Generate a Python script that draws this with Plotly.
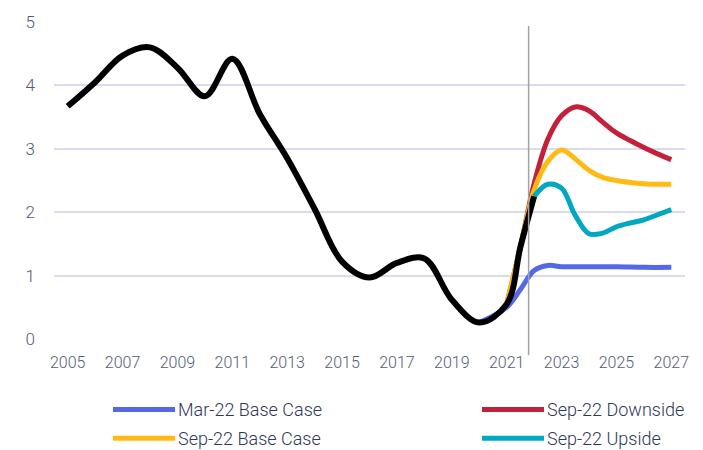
import plotly.graph_objects as go

# Historical series (annual, with a mid-2021 reading)
hist_years = [2005, 2006, 2007, 2008, 2009, 2010, 2011, 2012, 2013, 2014,
              2015, 2016, 2017, 2018, 2019, 2020, 2021, 2021.5, 2022]
hist_values = [3.67, 4.05, 4.47, 4.60, 4.28, 3.83, 4.42, 3.55, 2.85, 2.05,
               1.22, 0.97, 1.20, 1.27, 0.62, 0.26, 0.55, 1.45, 2.25]

# Scenario paths (half-yearly)
mar22_base_x = [2020, 2021, 2021.5, 2022, 2022.5, 2023, 2024, 2025, 2026, 2027]
mar22_base_y = [0.26, 0.50, 0.78, 1.08, 1.16, 1.14, 1.14, 1.14, 1.13, 1.13]

sep22_down_x = [2021, 2021.5, 2022, 2022.5, 2023, 2023.5, 2024, 2024.5, 2025, 2025.5, 2026, 2026.5, 2027]
sep22_down_y = [0.55, 1.45, 2.45, 3.15, 3.52, 3.66, 3.60, 3.42, 3.25, 3.13, 3.02, 2.92, 2.83]

sep22_base_x = [2021, 2021.5, 2022, 2022.5, 2023, 2023.5, 2024, 2024.5, 2025, 2025.5, 2026, 2026.5, 2027]
sep22_base_y = [0.55, 1.45, 2.35, 2.80, 2.98, 2.84, 2.66, 2.55, 2.50, 2.47, 2.45, 2.44, 2.44]

sep22_up_x = [2022, 2022.5, 2023, 2023.5, 2024, 2024.5, 2025, 2025.5, 2026, 2026.5, 2027]
sep22_up_y = [2.25, 2.44, 2.38, 1.95, 1.66, 1.67, 1.77, 1.83, 1.88, 1.96, 2.04]

forecast_start = 2021.8
x_ticks = list(range(2005, 2028, 2))
y_ticks = [0, 1, 2, 3, 4, 5]

series = [
    ("Mar-22 Base Case", mar22_base_x, mar22_base_y, "#5568e8"),
    ("Sep-22 Downside", sep22_down_x, sep22_down_y, "#c3213a"),
    ("Sep-22 Base Case", sep22_base_x, sep22_base_y, "#ffbb14"),
    ("Sep-22 Upside", sep22_up_x, sep22_up_y, "#00a9c1"),
]

FONT = "Roboto, sans-serif"
TICK_COLOR = "#545b78"
LEGEND_COLOR = "#2f375a"

W, H = 703, 450
ML, MR, MT, MB = 54, 18, 20, 111
PW, PH = W - ML - MR, H - MT - MB


def px_x(p):
    return (p - ML) / PW


def px_y(p):
    return (H - MB - p) / PH


fig = go.Figure()
for name, xs, ys, color in series:
    fig.add_trace(go.Scatter(x=xs, y=ys, name=name, mode="lines",
                             line=dict(color=color, width=5, shape="spline"),
                             showlegend=False))
fig.add_trace(go.Scatter(x=hist_years, y=hist_values, name="Actual", mode="lines",
                         line=dict(color="#000000", width=6, shape="spline"),
                         showlegend=False))

shapes = [dict(type="line", xref="x", yref="paper",
               x0=forecast_start, x1=forecast_start, y0=px_y(355), y1=px_y(24),
               line=dict(color="#a3a3a3", width=1.5))]
annotations = []

# Legend: two columns, two rows
legend_slots = [(113, 410), (482, 410), (113, 439), (482, 439)]
for (name, _, _, color), (lx, ly) in zip(series, legend_slots):
    shapes.append(dict(type="line", xref="paper", yref="paper",
                       x0=px_x(lx), x1=px_x(lx + 62), y0=px_y(ly), y1=px_y(ly),
                       line=dict(color=color, width=5)))
    annotations.append(dict(text=name, xref="paper", yref="paper",
                            x=px_x(lx + 63), y=px_y(ly), xanchor="left", yanchor="middle",
                            showarrow=False,
                            font=dict(family=FONT, size=18, weight=300, color=LEGEND_COLOR)))

fig.update_layout(
    width=W, height=H,
    margin=dict(l=ML, r=MR, t=MT, b=MB),
    paper_bgcolor="white", plot_bgcolor="white",
    shapes=shapes, annotations=annotations,
    showlegend=False,
    xaxis=dict(range=[2004.5, 2027.5], tickvals=x_ticks, ticktext=[str(v) for v in x_ticks],
               showgrid=False, zeroline=False, showline=False, ticks="",
               ticklabelstandoff=12,
               tickfont=dict(family=FONT, size=16, weight=300, color=TICK_COLOR)),
    yaxis=dict(range=[0, 5], tickvals=y_ticks, showgrid=True, gridcolor="#d7dcf1",
               gridwidth=1.5, zeroline=False, showline=False, ticks="",
               ticklabelstandoff=18,
               tickfont=dict(family=FONT, size=17, weight=300, color=TICK_COLOR)),
)

fig.write_html("out.html")
